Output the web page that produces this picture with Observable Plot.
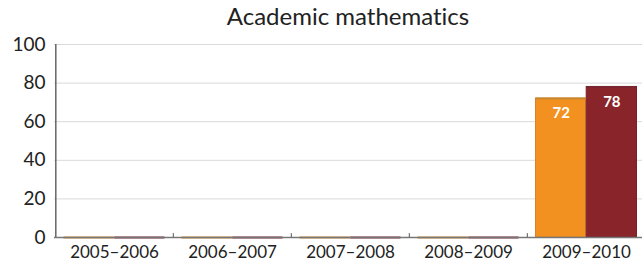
<!DOCTYPE html>
<html>
<head>
<meta charset="utf-8">
<script src="https://cdn.jsdelivr.net/npm/d3@7"></script>
<script src="https://cdn.jsdelivr.net/npm/@observablehq/plot@0.6"></script>
<style>
  html, body { margin: 0; padding: 0; background: #fff; }
  body { width: 642px; height: 262px; overflow: hidden; font-family: Lato, "Open Sans", sans-serif; font-variant-ligatures: none; }
  #title { height: 24px; line-height: 32px; padding-left: 54px; width: 588px; text-align: center; font-size: 24px; color: #222; white-space: nowrap; }
  svg { overflow: hidden; font-variant-ligatures: none; }
</style>
</head>
<body>
<div id="title">Academic mathematics</div>
<div id="chart"></div>
<script>
const categories = ["2005–2006", "2006–2007", "2007–2008", "2008–2009", "2009–2010"];
const seriesA = [0, 0, 0, 0, 72];   // orange
const seriesB = [0, 0, 0, 0, 78];   // maroon
const yTicks = [0, 20, 40, 60, 80, 100];

const W = 642, H = 238, mL = 54, mR = -4;
const band = (W - mL - mR) / categories.length;
const pad = 8.5;
const half = band / 2;
const shift = (half - pad) / 2 + pad - half;

const dataA = categories.map((c, i) => ({c, v: seriesA[i]}));
const dataB = categories.map((c, i) => ({c, v: seriesB[i]}));

const orange = "#F39120", orangeEdge = "#D9822A";
const maroon = "#89252A", maroonEdge = "#7A2025";

const chart = Plot.plot({
  width: W, height: H,
  marginLeft: mL, marginRight: mR, marginTop: 20, marginBottom: 25,
  style: {fontFamily: "Lato, 'Open Sans', sans-serif", color: "#222", background: "#fff"},
  x: {domain: categories, padding: 0, label: null},
  y: {domain: [0, 100], label: null},
  marks: [
    Plot.gridY(yTicks.filter(d => d > 0), {stroke: "#d9d9d9", strokeOpacity: 1}),
    Plot.axisY({ticks: yTicks, tickSize: 0, tickPadding: 9, fontSize: 19, label: null}),
    Plot.axisX({tickSize: 0, tickPadding: 8, fontSize: 17, label: null}),
    Plot.barY(dataA, {x: "c", y: "v", fill: orange, stroke: orangeEdge, strokeWidth: 1, insetLeft: pad, insetRight: half}),
    Plot.barY(dataB, {x: "c", y: "v", fill: maroon, stroke: maroonEdge, strokeWidth: 1, insetLeft: half, insetRight: pad}),
    Plot.tickY(dataA, {x: "c", y: "v", stroke: "#C8882E", strokeWidth: 2, insetLeft: pad, insetRight: half}),
    Plot.tickY(dataB, {x: "c", y: "v", stroke: "#7A2530", strokeWidth: 2, insetLeft: half, insetRight: pad}),
    Plot.ruleY([0], {stroke: "#777", strokeWidth: 1.5}),
    Plot.ruleX(categories.slice(1), {x: d => d, y1: 0, y2: 2, dx: -half, stroke: "#555", strokeWidth: 1}),
    Plot.ruleX([categories[0]], {x: d => d, y1: 0, y2: 100, dx: -half + 0.5, stroke: "#666", strokeWidth: 1.5}),
    Plot.text(dataA.filter(d => d.v > 0), {x: "c", y: "v", text: d => String(d.v), dx: shift, dy: 15, fill: "#fff", fontWeight: "bold", fontSize: 15}),
    Plot.text(dataB.filter(d => d.v > 0), {x: "c", y: "v", text: d => String(d.v), dx: -shift, dy: 15, fill: "#fff", fontWeight: "bold", fontSize: 15})
  ]
});
document.getElementById("chart").appendChild(chart);
</script>
</body>
</html>
